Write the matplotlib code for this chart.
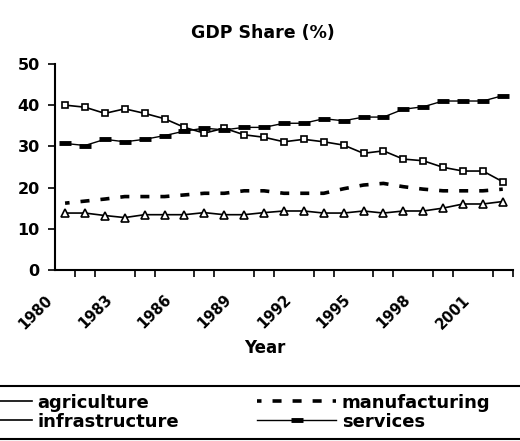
import matplotlib.pyplot as plt
import matplotlib.patches as patches
import numpy as np

plt.rcParams['font.family'] = ['DejaVu Sans']
plt.rcParams['font.weight'] = 'bold'

years = list(range(1980, 2003))
agriculture = [40.0, 39.5, 38.0, 39.1, 38.0, 36.7, 34.6, 33.2, 34.4, 32.8,
               32.2, 31.1, 31.7, 31.1, 30.3, 28.3, 28.9, 26.9, 26.5, 24.9,
               24.0, 24.0, 21.4]
manufacturing = [16.2, 16.7, 17.2, 17.8, 17.8, 17.8, 18.2, 18.6, 18.6, 19.2,
                 19.2, 18.6, 18.6, 18.6, 19.7, 20.6, 21.0, 20.2, 19.6, 19.2,
                 19.2, 19.2, 19.6]
infrastructure = [13.8, 13.8, 13.2, 12.7, 13.4, 13.4, 13.4, 13.9, 13.4, 13.4,
                  13.9, 14.3, 14.3, 13.8, 13.8, 14.3, 13.8, 14.3, 14.3, 15.0,
                  16.0, 16.0, 16.6]
services = [30.7, 30.2, 31.7, 31.1, 31.7, 32.6, 33.7, 34.4, 34.0, 34.6,
            34.6, 35.6, 35.6, 36.7, 36.2, 37.1, 37.1, 39.0, 39.6, 41.0,
            41.0, 41.0, 42.3]

x = np.arange(len(years))
W, H = 520.0, 441.0

fig = plt.figure(figsize=(5.2, 4.41), dpi=100)
ax = fig.add_axes([0.106, 0.388, 0.88, 0.467])

l1, = ax.plot(x, agriculture, color='black', lw=1.2, marker='s', ms=5,
              mfc='white', mec='black', mew=1.2, label='agriculture')
l2, = ax.plot(x, infrastructure, color='black', lw=1.2, marker='^', ms=6,
              mfc='white', mec='black', mew=1.2, label='infrastructure')
# short dashes roughly centred on every point (20px spacing)
l3, = ax.plot(x, manufacturing, color='black', lw=2.6,
              linestyle=(1.25, (2.5, 3.05)), label='manufacturing')
l4, = ax.plot(x, services, color='black', lw=1, marker='_', ms=9, mew=3.5,
              label='services')

ax.set_xlim(-0.5, len(years) - 0.5)
ax.set_ylim(0, 50)
ax.set_yticks([0, 10, 20, 30, 40, 50])
ax.set_xticks(x[::3] - 0.5)
ax.set_xticklabels([str(y) for y in years[::3]], rotation=45, ha='right',
                   fontsize=10.5)
ax.set_xticks(np.arange(-0.5, len(years)), minor=True)
ax.tick_params(axis='x', which='major', length=0, pad=16)
ax.tick_params(axis='x', which='minor', length=5, width=1.2, direction='out')
ax.tick_params(axis='y', length=5, width=1.2, labelsize=11.5, pad=6)
for s in ['top', 'right']:
    ax.spines[s].set_visible(False)
for s in ['left', 'bottom']:
    ax.spines[s].set_linewidth(1.5)

# title and x label are centred on the figure, not the axes
fig.text(263 / W, 1 - 33 / H, 'GDP Share (%)', fontsize=12.5,
         fontweight='bold', ha='center', va='center')
ax.set_xlabel('Year', fontsize=12, fontweight='bold')
ax.xaxis.set_label_coords((265 - 55) / 458, -(348 - 270) / 206)
ax.xaxis.label.set_va('center')

# legend box spanning the whole width (only top/bottom edges visible)
fig.patches.append(patches.Rectangle((-10 / W, 1 - 439 / H), 540 / W, 53 / H,
                                     transform=fig.transFigure, fill=False,
                                     edgecolor='black', lw=1.5))
leg = fig.legend(handles=[l1, l2, l3, l4], loc='upper left', ncol=2,
                 bbox_to_anchor=(-49 / W, 1 - 392 / H),
                 fontsize=13, handlelength=4.4, handletextpad=0.3,
                 labelspacing=0.05, borderaxespad=0, frameon=False,
                 borderpad=0.1, columnspacing=4.3)

fig.savefig('out.png', dpi=100)
